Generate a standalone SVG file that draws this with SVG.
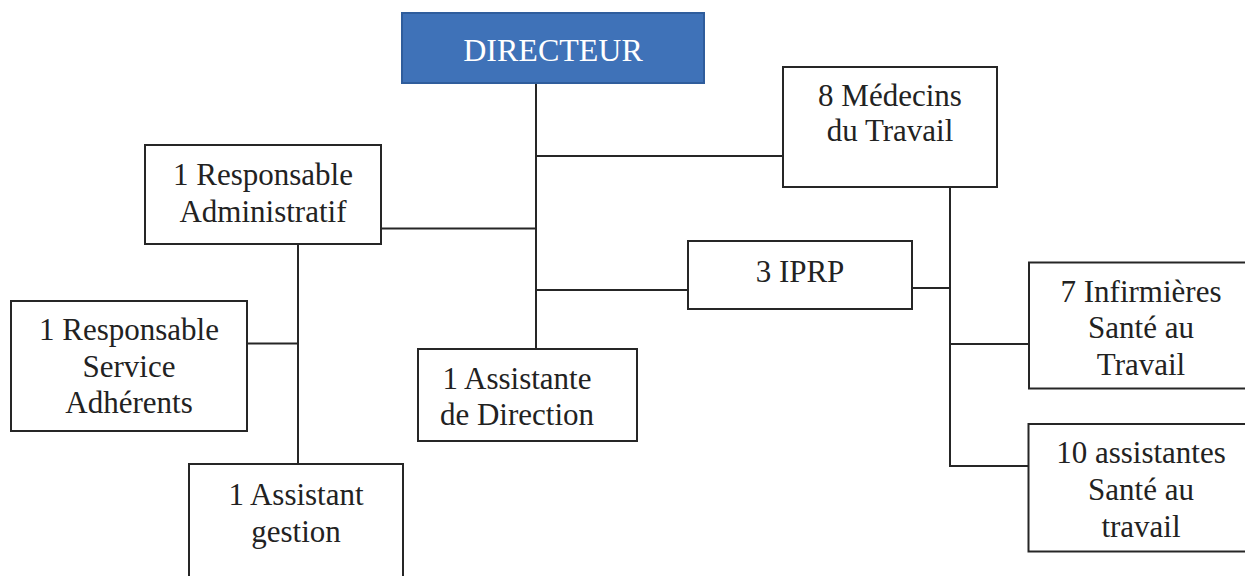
<svg xmlns="http://www.w3.org/2000/svg" width="1245" height="576" viewBox="0 0 1245 576">
<style>
.box{fill:#fff;stroke:#262626;stroke-width:2}
.lbl{font-family:"Liberation Serif","Times New Roman",serif;font-size:31px;fill:#222;text-anchor:middle}
.con{fill:none;stroke:#262626;stroke-width:2}
</style>
<rect width="1245" height="576" fill="#fff"/>
<g id="connectors">
<path class="con" d="M536 83 V349"/>
<path class="con" d="M536 156 H783"/>
<path class="con" d="M381 228.5 H536"/>
<path class="con" d="M536 290 H688"/>
<path class="con" d="M298 244 V464"/>
<path class="con" d="M247 343.5 H298"/>
<path class="con" d="M950 187 V466 H1029"/>
<path class="con" d="M912 288 H950"/>
<path class="con" d="M950 344 H1029"/>
</g>
<g id="directeur">
<rect x="402" y="13" width="302" height="70" fill="#3F72B8" stroke="#2F5D9C" stroke-width="2"/>
<text x="553" y="61" class="lbl" style="fill:#fff;font-size:32px">DIRECTEUR</text>
</g>
<g id="medecins">
<rect class="box" x="783" y="67" width="214" height="120"/>
<text class="lbl" x="890" y="106">8 Médecins</text>
<text class="lbl" x="890" y="141">du Travail</text>
</g>
<g id="resp-admin">
<rect class="box" x="145" y="145" width="236" height="99"/>
<text class="lbl" x="263" y="185">1 Responsable</text>
<text class="lbl" x="263" y="222">Administratif</text>
</g>
<g id="iprp">
<rect class="box" x="688" y="241" width="224" height="68"/>
<text class="lbl" x="800" y="282">3 IPRP</text>
</g>
<g id="resp-service">
<rect class="box" x="11" y="301" width="236" height="130"/>
<text class="lbl" x="129" y="340">1 Responsable</text>
<text class="lbl" x="129" y="377">Service</text>
<text class="lbl" x="129" y="413">Adhérents</text>
</g>
<g id="assistante-direction">
<rect class="box" x="418" y="349" width="219" height="92"/>
<text class="lbl" x="517" y="389">1 Assistante</text>
<text class="lbl" x="517" y="425">de Direction</text>
</g>
<g id="infirmieres">
<rect class="box" x="1029" y="262.5" width="230" height="126"/>
<text class="lbl" x="1141" y="302">7 Infirmières</text>
<text class="lbl" x="1141" y="338">Santé au</text>
<text class="lbl" x="1141" y="375">Travail</text>
</g>
<g id="assistantes-sante">
<rect class="box" x="1028.5" y="424" width="230" height="127.5"/>
<text class="lbl" x="1141" y="463">10 assistantes</text>
<text class="lbl" x="1141" y="500">Santé au</text>
<text class="lbl" x="1141" y="537">travail</text>
</g>
<g id="assistant-gestion">
<rect class="box" x="189" y="464" width="214" height="130"/>
<text class="lbl" x="296" y="505">1 Assistant</text>
<text class="lbl" x="296" y="542">gestion</text>
</g>
</svg>
